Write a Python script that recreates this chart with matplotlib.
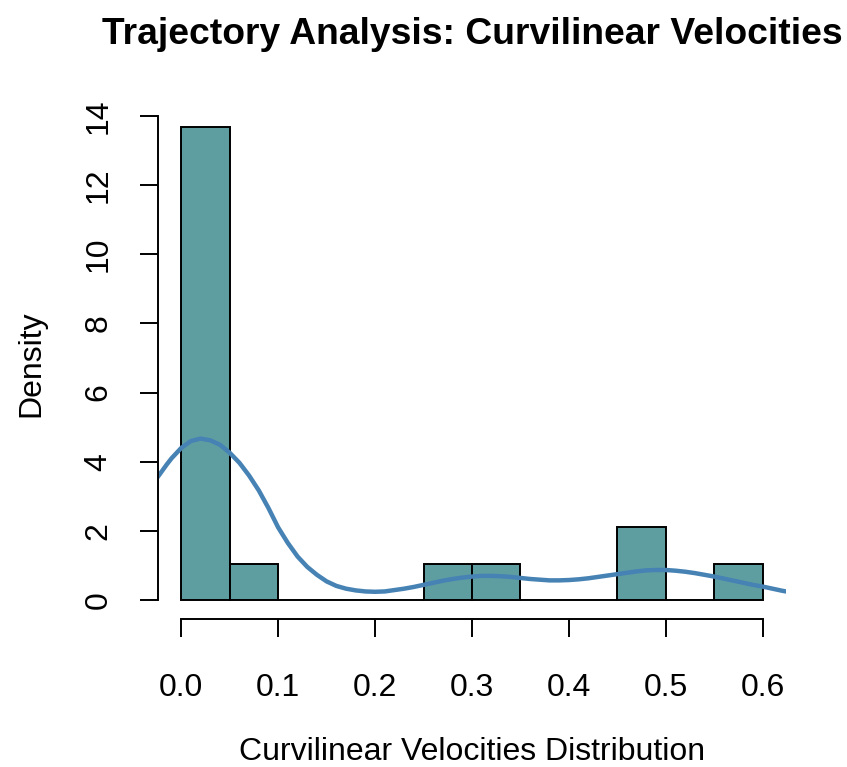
import numpy as np
import matplotlib
matplotlib.use("Agg")
import matplotlib.pyplot as plt

# histogram: bin edges and counts per bin (19 trajectories)
bin_edges = [0.0, 0.05, 0.10, 0.15, 0.20, 0.25, 0.30, 0.35, 0.40, 0.45, 0.50, 0.55, 0.60]
bin_counts = [13, 1, 0, 0, 0, 1, 1, 0, 0, 2, 0, 1]

# density curve
kde_x = [-0.030, -0.024, -0.015, -0.01, 0.0, 0.01, 0.02, 0.03, 0.04, 0.05, 0.06, 0.07,
         0.08, 0.09, 0.10, 0.11, 0.12, 0.13, 0.14, 0.15, 0.16, 0.17, 0.18, 0.19,
         0.20, 0.21, 0.22, 0.23, 0.24, 0.25, 0.26, 0.27, 0.28, 0.29, 0.30, 0.31,
         0.32, 0.33, 0.34, 0.35, 0.36, 0.37, 0.38, 0.39, 0.40, 0.41, 0.42, 0.43,
         0.44, 0.45, 0.46, 0.47, 0.48, 0.49, 0.50, 0.51, 0.52, 0.53, 0.54, 0.55,
         0.56, 0.57, 0.58, 0.59, 0.60, 0.61, 0.62, 0.63]
kde_y = [3.35, 3.57, 3.92, 4.10, 4.40, 4.60, 4.67, 4.62, 4.49, 4.26, 3.97, 3.60,
         3.17, 2.66, 2.10, 1.65, 1.26, 0.96, 0.73, 0.54, 0.41, 0.33, 0.28, 0.25,
         0.24, 0.25, 0.29, 0.33, 0.38, 0.44, 0.50, 0.56, 0.61, 0.65, 0.68, 0.70,
         0.70, 0.69, 0.67, 0.64, 0.61, 0.59, 0.57, 0.57, 0.58, 0.60, 0.63, 0.67,
         0.71, 0.75, 0.79, 0.83, 0.86, 0.87, 0.87, 0.85, 0.82, 0.78, 0.73, 0.68,
         0.62, 0.56, 0.50, 0.44, 0.39, 0.33, 0.27, 0.22]

x_ticks = [0.0, 0.1, 0.2, 0.3, 0.4, 0.5, 0.6]
y_ticks = [0, 2, 4, 6, 8, 10, 12, 14]

plt.rcParams['font.family'] = ['Liberation Sans', 'DejaVu Sans']

fig = plt.figure(figsize=(8.47, 7.67), dpi=100)
ax = fig.add_axes([158 / 847, 1 - 619 / 767, (786 - 158) / 847, (619 - 108) / 767])

edges = np.array(bin_edges)
counts = np.array(bin_counts)
widths = np.diff(edges)
dens = counts / (counts.sum() * widths)

ax.bar(edges[:-1], dens, width=widths, align='edge', color='#5F9EA0',
       edgecolor='black', linewidth=1.4)
ax.plot(kde_x, kde_y, color='#4682B4', linewidth=3.2, solid_capstyle='butt')

ax.set_xlim(-0.024, 0.624)
ax.set_ylim(-0.547, 14.23)

for s in ['top', 'right']:
    ax.spines[s].set_visible(False)
ax.spines['left'].set_bounds(0, 14)
ax.spines['bottom'].set_bounds(0, 0.6)
ax.spines['left'].set_linewidth(1.4)
ax.spines['bottom'].set_linewidth(1.4)

ax.set_xticks(x_ticks)
ax.set_xticklabels(['%.1f' % v for v in x_ticks])
ax.set_yticks(y_ticks)
ax.set_yticklabels([str(v) for v in y_ticks], rotation=90, va='center')
ax.tick_params(axis='both', length=13, width=1.4, labelsize=23)
ax.tick_params(axis='x', pad=26)
ax.tick_params(axis='y', pad=19)

ax.set_xlabel('Curvilinear Velocities Distribution', fontsize=23, labelpad=24)
ax.set_ylabel('Density', fontsize=23, labelpad=27)
ax.set_title('Trajectory Analysis: Curvilinear Velocities', fontsize=26.8,
             fontweight='bold', pad=46)

fig.savefig('out.png', dpi=100)
